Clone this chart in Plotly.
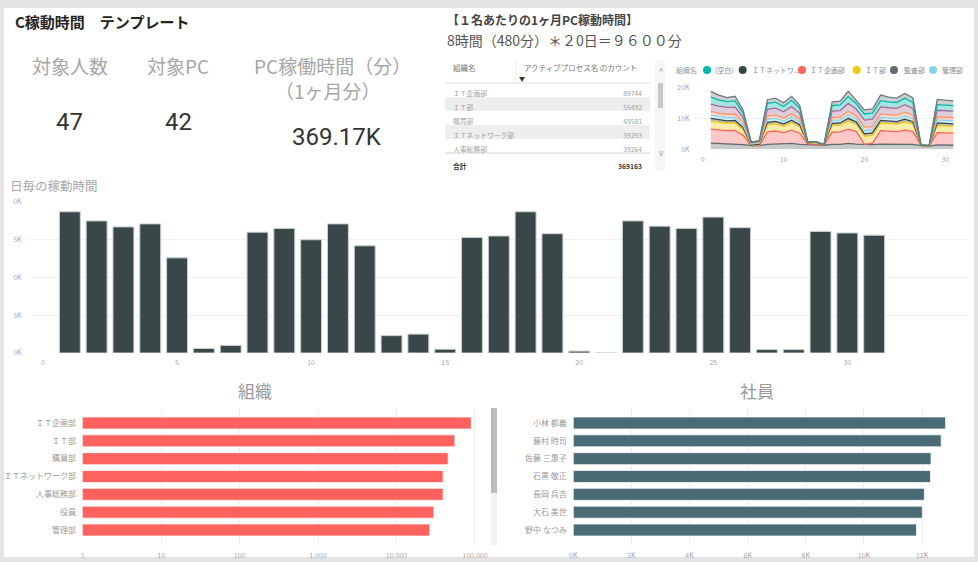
import plotly.graph_objects as go

W, H = 978, 562
def px(x):
    return x / W
def py(y):
    return 1 - y / H

# ---------------- data ----------------
days = list(range(1, 32))
daily_minutes = [18700, 17500, 16700, 17100, 12600, 600, 1000, 16000, 16500, 15000,
                 17100, 14200, 2300, 2500, 500, 15300, 15500, 18700, 15800, 250,
                 0, 17500, 16800, 16500, 18000, 16600, 450, 450, 16100, 15900, 15600]
daily_ticktext = ["0K", "5K", "0K", "5K", "0K"]

dept_names = ["ＩＴ企画部", "ＩＴ部", "購買部", "ＩＴネットワーク部", "人事総務部", "役員", "管理部"]
dept_counts = [89744, 55492, 45581, 39293, 39264, 29900, 26600]
total_count = 369163
log_tickvals = [1, 10, 100, 1000, 10000, 100000]
log_ticktext = ["1", "10", "100", "1.000", "10.000", "100.000"]

employee_names = ["小林 都義", "藤村 時司", "佐藤 三惠子", "石黒 敬正", "長岡 兵吉", "大石 美世", "野中 なつみ"]
employee_minutes = [12810, 12660, 12310, 12290, 12080, 12010, 11810]
emp_tickvals = [0, 2000, 4000, 6000, 8000, 10000, 12000]
emp_ticktext = ["0K", "2K", "4K", "6K", "8K", "10K", "12K"]

kpi_people = "47"
kpi_pc = "42"
kpi_minutes = "369.17K"

# stacked area (thousands of minutes per day), bottom to top
area_kansa = [2.0,1.9,1.8,1.8,1.5,1.2,1.2,1.6,1.7,1.6,1.9,1.6,1.4,1.4,1.3,1.6,1.6,1.9,1.7,1.6,1.5,1.7,1.7,1.6,1.8,1.6,1.2,1.0,1.4,1.4,1.3]
area_itkikaku = [4.5,4.3,4.2,4.3,3.0,0,0,4.0,4.2,3.8,4.3,3.6,0.3,0.3,0,3.9,4.0,4.6,4.0,0,0.5,4.3,4.2,4.1,4.4,4.1,0,0,4.0,3.9,3.9]
area_it = [2.6,2.5,2.4,2.4,1.8,0,0.3,2.3,2.3,2.1,2.4,2.0,0.3,0.5,0,2.2,2.2,2.6,2.3,2.6,2.5,2.5,2.4,2.4,2.6,2.4,0,0,2.3,2.3,2.2]
area_itnet = [0.9,0.8,0.8,0.8,0.7,0.2,0.2,0.8,0.8,0.7,0.8,0.7,0.1,0.1,0.1,0.7,0.7,0.9,0.8,0.8,0.8,0.8,0.8,0.8,0.9,0.8,0.1,0.1,0.8,0.8,0.8]
area_kanri = [1.0,1.0,1.0,1.0,0.8,0.3,0.3,1.0,1.0,0.9,1.0,0.9,0.2,0.2,0.1,0.9,0.9,1.1,1.0,1.0,1.0,1.0,1.0,1.0,1.1,1.0,0.1,0.1,1.0,1.0,1.0]
area_yakuin = [1.2,1.1,1.1,1.1,0.9,0.3,0.3,1.1,1.1,1.0,1.1,0.9,0,0,0,1.0,1.0,1.2,1.0,1.1,1.1,1.1,1.1,1.1,1.2,1.1,0,0,1.0,1.0,1.0]
area_kobai = [2.4,2.3,2.2,2.2,1.6,0.3,0.4,2.1,2.2,2.0,2.3,1.9,0,0,0,2.0,2.1,2.5,2.1,2.3,2.3,2.3,2.2,2.2,2.4,2.2,0,0,2.1,2.1,2.1]
area_blank = [2.2,2.0,1.9,2.0,1.4,0,0,1.9,1.9,1.7,2.0,1.6,0,0,0,1.8,1.8,2.2,1.8,2.0,2.0,2.0,1.9,1.9,2.1,1.9,0,0,1.8,1.8,1.8]
area_jinji = [1.9,1.6,1.3,1.5,0.9,0,0,1.2,1.3,1.2,1.3,1.0,0,0,0,1.1,1.2,1.7,1.1,1.3,1.3,1.8,1.5,1.4,1.5,1.5,0,0,1.7,1.5,1.5]

area_layers = [
    ("監査部", "#5F6B6D", area_kansa),
    ("ＩＴ企画部", "#FD625E", area_itkikaku),
    ("ＩＴ部", "#F2C80F", area_it),
    ("ＩＴネットワーク部", "#374649", area_itnet),
    ("管理部", "#8AD4EB", area_kanri),
    ("役員", "#FE9666", area_yakuin),
    ("購買部", "#A66999", area_kobai),
    ("(空白)", "#01B8AA", area_blank),
    ("人事総務部", "#6E7B7D", area_jinji),
]
legend_labels = ["(空白)", "ＩＴネットワ...", "ＩＴ企画部", "ＩＴ部", "監査部", "管理部"]
legend_colors = ["#01B8AA", "#374649", "#FD625E", "#F2C80F", "#5F6B6D", "#8AD4EB"]

# ---------------- figure ----------------
JP = "Noto Sans CJK JP, Noto Sans, sans-serif"
TICK = dict(size=7, color="#a8a8a8", family=JP)

def rgba(hexc, a):
    h = hexc.lstrip("#")
    return "rgba(%d,%d,%d,%.2f)" % (int(h[0:2], 16), int(h[2:4], 16), int(h[4:6], 16), a)

fig = go.Figure()

# main daily bar chart
fig.add_trace(go.Bar(x=days, y=daily_minutes, width=0.78,
                     marker=dict(color="#3A4749", line=dict(color="#c9cfcf", width=1)),
                     xaxis="x", yaxis="y", showlegend=False))

# stacked area
for name, col, vals in area_layers:
    fig.add_trace(go.Scatter(x=days, y=[v * 1000 for v in vals], name=name, stackgroup="a",
                             mode="lines", line=dict(color=col, width=1.3),
                             fillcolor=rgba(col, 0.35), xaxis="x2", yaxis="y2",
                             showlegend=False))

# organisations (log)
fig.add_trace(go.Bar(y=dept_names, x=dept_counts, orientation="h", width=0.67,
                     marker=dict(color="#FD625E", line=dict(color="rgba(255,255,255,0.7)", width=1)),
                     xaxis="x3", yaxis="y3", showlegend=False))

# employees
fig.add_trace(go.Bar(y=employee_names, x=employee_minutes, orientation="h", width=0.67,
                     marker=dict(color="#4A6A75", line=dict(color="rgba(255,255,255,0.7)", width=1)),
                     xaxis="x4", yaxis="y4", showlegend=False))

# table
n_rows = 5
cell_fill = ["white", "#eeeeee", "white", "#eeeeee", "white", "white"]
col1 = dept_names[:n_rows] + ["<b>合計</b>"]
col2 = [str(v) for v in dept_counts[:n_rows]] + ["<b>%d</b>" % total_count]
txt_col = ["#a0a0a0"] * n_rows + ["#333333"]
fig.add_trace(go.Table(
    domain=dict(x=[px(445), px(650)], y=[py(172), py(57)]),
    columnwidth=[71, 134],
    header=dict(values=["組織名", "アクティブプロセス名 のカウント"],
                align=["left", "left"], height=26,
                fill=dict(color="white"), line=dict(color="white", width=0),
                font=dict(size=7.5, color="#777777", family=JP)),
    cells=dict(values=[col1, col2], align=["left", "right"], height=14,
               fill=dict(color=[cell_fill, cell_fill]),
               line=dict(color=[cell_fill, cell_fill], width=0),
               font=dict(size=6.8, color=[txt_col, txt_col], family=JP)),
))

shapes = [
    dict(type="rect", xref="paper", yref="paper", x0=px(4), x1=px(974), y0=py(557), y1=py(8),
         fillcolor="white", line=dict(width=0), layer="below"),
    # table separators
    dict(type="line", xref="paper", yref="paper", x0=px(445), x1=px(650), y0=py(83), y1=py(83),
         line=dict(color="#dddddd", width=1)),
    dict(type="line", xref="paper", yref="paper", x0=px(445), x1=px(650), y0=py(153), y1=py(153),
         line=dict(color="#d0d0d0", width=1)),
    dict(type="line", xref="paper", yref="paper", x0=px(516), x1=px(516), y0=py(83), y1=py(60),
         line=dict(color="#eeeeee", width=1)),
    # table scrollbar
    dict(type="rect", xref="paper", yref="paper", x0=px(655), x1=px(665), y0=py(170), y1=py(60),
         fillcolor="#f6f6f6", line=dict(width=0)),
    dict(type="rect", xref="paper", yref="paper", x0=px(658), x1=px(663), y0=py(108), y1=py(83),
         fillcolor="#c8c8c8", line=dict(width=0)),
    # bottom scrollbar
    dict(type="rect", xref="paper", yref="paper", x0=px(491), x1=px(497), y0=py(545), y1=py(408),
         fillcolor="#f2f2f2", line=dict(width=0)),
    dict(type="rect", xref="paper", yref="paper", x0=px(491), x1=px(497), y0=py(493), y1=py(408),
         fillcolor="#bdbdbd", line=dict(width=0)),
]

legend_dot_x = [707, 742.7, 802, 856.7, 894, 933]
legend_text_x = [713, 750, 808, 863, 902, 940]
for cx, col in zip(legend_dot_x, legend_colors):
    shapes.append(dict(type="circle", xref="paper", yref="paper",
                       x0=px(cx - 4), x1=px(cx + 4), y0=py(74), y1=py(66),
                       fillcolor=col, line=dict(width=0)))

ann = []
def text(x, y, s, size, color, xanchor="left", family=JP):
    ann.append(dict(x=px(x), y=py(y), xref="paper", yref="paper", text=s, showarrow=False,
                    xanchor=xanchor, yanchor="middle", font=dict(size=size, color=color, family=family)))

text(13, 21, "<b>C稼動時間　テンプレート</b>", 15, "#252423")
text(70, 66, "対象人数", 19, "#a6a6a6", "center")
text(178, 66, "対象PC", 19, "#a6a6a6", "center")
text(332, 66, "PC稼働時間（分）", 19, "#a6a6a6", "center")
text(328, 91, "（1ヶ月分）", 19, "#a6a6a6", "center")
text(69, 122, kpi_people, 24, "#333333", "center", "Roboto, DejaVu Sans, sans-serif")
text(178, 122, kpi_pc, 24, "#333333", "center", "Roboto, DejaVu Sans, sans-serif")
text(337, 137, kpi_minutes, 24, "#333333", "center", "Roboto, DejaVu Sans, sans-serif")
text(445, 19, "<b>【１名あたりの1ヶ月PC稼動時間】</b>", 12, "#444444")
text(445, 40, "8時間（480分）＊２0日＝９６００分", 14, "#555555")
text(8, 185, "日毎の稼動時間", 12.5, "#a6a6a6")
text(255, 390, "組織", 17, "#999999", "center")
text(757, 390, "社員", 17, "#999999", "center")
text(674, 70, "組織名", 7, "#999999")
for tx, lab in zip(legend_text_x, legend_labels):
    text(tx, 70, lab, 7, "#888888")
text(661, 70, "^", 8, "#999999", "center")
text(661, 152, "v", 8, "#999999", "center")
text(522, 78, "▼", 6, "#333333", "center")

ax_common = dict(automargin=False, fixedrange=True, zeroline=False)

fig.update_layout(
    width=W, height=H, margin=dict(l=0, r=0, t=0, b=0, autoexpand=False),
    paper_bgcolor="#e4e4e4", plot_bgcolor="rgba(0,0,0,0)",
    font=dict(family=JP), bargap=0.2,
    shapes=shapes, annotations=ann,
    xaxis=dict(domain=[px(30), px(968)], anchor="y", range=[-0.485, 34.5],
               tickvals=[0, 5, 10, 15, 20, 25, 30], showgrid=False, tickfont=TICK,
               ticks="outside", ticklen=3, tickcolor="rgba(0,0,0,0)", **ax_common),
    yaxis=dict(domain=[py(353), py(202)], anchor="x", range=[0, 20000],
               tickvals=[0, 5000, 10000, 15000, 20000], ticktext=daily_ticktext,
               gridcolor="#f0f0f0", tickfont=TICK, ticks="outside", ticklen=6,
               tickcolor="rgba(0,0,0,0)", **ax_common),
    xaxis2=dict(domain=[px(695), px(955)], anchor="y2", range=[-0.95, 31.2],
                tickvals=[0, 10, 20, 30], showgrid=False, tickfont=TICK, ticks="outside",
                ticklen=3, tickcolor="rgba(0,0,0,0)", **ax_common),
    yaxis2=dict(domain=[py(149.3), py(87.3)], anchor="x2", range=[0, 20000],
                tickvals=[0, 10000, 20000], ticktext=["0K", "10K", "20K"], gridcolor="#eeeeee",
                tickfont=TICK, ticks="outside", ticklen=3, tickcolor="rgba(0,0,0,0)", **ax_common),
    xaxis3=dict(domain=[px(82.7), px(483)], anchor="y3", type="log", range=[0, 5.103],
                tickvals=log_tickvals, ticktext=log_ticktext, gridcolor="#eeeeee",
                tickfont=TICK, ticks="outside", ticklen=4, tickcolor="rgba(0,0,0,0)", **ax_common),
    yaxis3=dict(domain=[py(545), py(408)], anchor="x3", type="category", categoryorder="array",
                categoryarray=dept_names, range=[6.84, -0.84], showgrid=False,
                tickfont=dict(size=8, color="#999999", family=JP),
                ticks="outside", ticklen=4, tickcolor="rgba(0,0,0,0)", **ax_common),
    xaxis4=dict(domain=[px(573.3), px(972)], anchor="y4", range=[0, 13720],
                tickvals=emp_tickvals, ticktext=emp_ticktext, gridcolor="#eeeeee",
                tickfont=TICK, ticks="outside", ticklen=4, tickcolor="rgba(0,0,0,0)", **ax_common),
    yaxis4=dict(domain=[py(545), py(408)], anchor="x4", type="category", categoryorder="array",
                categoryarray=employee_names, range=[6.84, -0.84], showgrid=False,
                tickfont=dict(size=8, color="#999999", family=JP),
                ticks="outside", ticklen=4, tickcolor="rgba(0,0,0,0)", **ax_common),
)

fig.write_html("out.html", config={"displayModeBar": False},
               post_script="document.body.style.margin='0px';document.body.style.padding='0px';")
